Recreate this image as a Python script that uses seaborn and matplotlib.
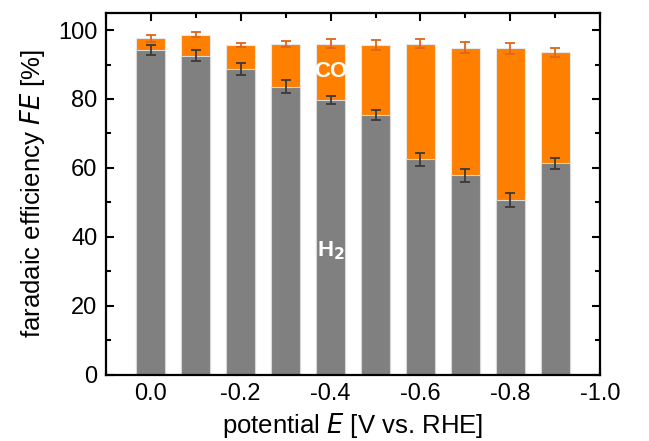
import matplotlib
matplotlib.use("Agg")
import matplotlib.pyplot as plt
import seaborn as sns
import numpy as np
import pandas as pd
from matplotlib.ticker import MultipleLocator

# data
potential = [0.0, -0.1, -0.2, -0.3, -0.4, -0.5, -0.6, -0.7, -0.8, -0.9]
fe_h2 = [94.2, 92.6, 88.7, 83.6, 79.7, 75.4, 62.5, 57.9, 50.7, 61.3]
fe_total = [97.6, 98.6, 95.7, 96.0, 96.0, 95.7, 96.0, 94.9, 94.7, 93.5]
err_h2 = [1.5, 1.6, 1.7, 1.9, 1.1, 1.5, 1.9, 1.9, 2.1, 1.5]
err_total = [1.0, 0.7, 0.5, 0.9, 1.3, 1.5, 1.3, 1.5, 1.6, 1.3]

df = pd.DataFrame({"E": potential, "H2": fe_h2, "total": fe_total})

sns.set_style("ticks")
plt.rcParams["font.family"] = ["Liberation Sans", "DejaVu Sans"]
plt.rcParams["text.color"] = "black"
plt.rcParams["axes.labelcolor"] = "black"
plt.rcParams["xtick.color"] = "black"
plt.rcParams["ytick.color"] = "black"

fig = plt.figure(figsize=(6.49, 4.41), dpi=100)
ax = fig.add_axes([0.163, 0.150, 0.762, 0.821])

orange = "#ff8000"
gray = "#808080"
sns.barplot(data=df, x="E", y="total", native_scale=True, color=orange,
            saturation=1, width=0.65, edgecolor="#e8e8e8", linewidth=0.8,
            errorbar=None, ax=ax)
sns.barplot(data=df, x="E", y="H2", native_scale=True, color=gray,
            saturation=1, width=0.65, edgecolor="#d8d8d8", linewidth=0.8,
            errorbar=None, ax=ax)

ax.errorbar(potential, fe_total, yerr=err_total, fmt="none", ecolor="#e0651a",
            elinewidth=1.3, capsize=3.5, capthick=1.3, zorder=5)
ax.errorbar(potential, fe_h2, yerr=err_h2, fmt="none", ecolor="#3a3a3a",
            elinewidth=1.3, capsize=3.5, capthick=1.3, zorder=5)

ax.set_xlim(0.1, -1.0)
ax.set_ylim(0, 105)
ax.xaxis.set_major_locator(MultipleLocator(0.2))
ax.xaxis.set_minor_locator(MultipleLocator(0.1))
ax.yaxis.set_major_locator(MultipleLocator(20))
ax.yaxis.set_minor_locator(MultipleLocator(10))
ax.xaxis.set_major_formatter(matplotlib.ticker.FormatStrFormatter("%.1f"))

ax.tick_params(which="both", direction="in", top=True, right=True,
               width=1.5, labelsize=17, color="black", labelcolor="black")
ax.tick_params(which="major", length=6, pad=6)
ax.tick_params(which="minor", length=3.5)
for s in ax.spines.values():
    s.set_visible(True)
    s.set_linewidth(1.6)
    s.set_color("black")

ax.set_xlabel("potential $\\it{E}$ [V vs. RHE]", fontsize=18.5, labelpad=4,
              color="black")
ax.set_ylabel("faradaic efficiency $\\it{FE}$ [%]", fontsize=18.5, labelpad=8,
              color="black")

ax.text(-0.4, 88, "CO", color="white", fontsize=16, fontweight="bold",
        ha="center", va="center", zorder=6)
ax.text(-0.4, 36, "H$_\\mathbf{2}$", color="white", fontsize=16, fontweight="bold",
        ha="center", va="center", zorder=6)

fig.savefig("out.png", dpi=100)
